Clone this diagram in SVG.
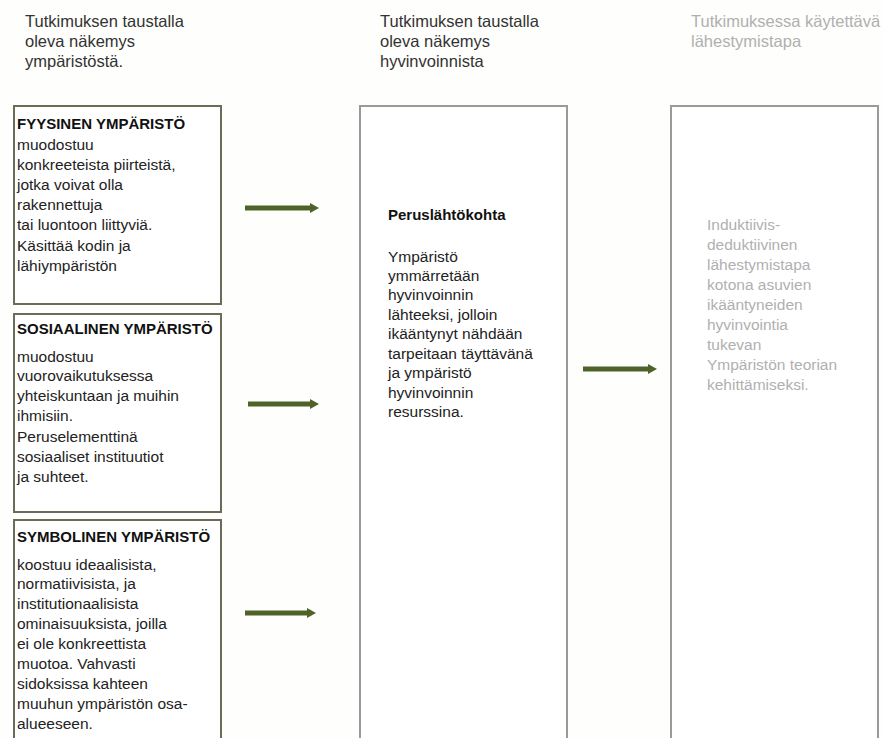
<svg xmlns="http://www.w3.org/2000/svg" width="883" height="738" viewBox="0 0 883 738">
<style>
text{font-family:"Liberation Sans",Arial,sans-serif;font-size:15.5px;fill:#222}
.h{font-weight:bold;font-size:15px;fill:#111}
.t{fill:#333;font-size:16.5px}
.g{fill:#b0b0b0}
.lb{fill:#fff;stroke:#6b6b58;stroke-width:2}
.cb{fill:#fff;stroke:#9a9a9a;stroke-width:2}
.ar{stroke:#4f6228;stroke-width:5;fill:none}
.ah{fill:#4f6228}
</style>
<rect width="883" height="738" fill="#fefefc"/>
<g id="titles">
<text class="t" x="25" y="27">Tutkimuksen taustalla</text>
<text class="t" x="25" y="47">oleva näkemys</text>
<text class="t" x="25" y="67">ympäristöstä.</text>
<text class="t" x="380" y="27">Tutkimuksen taustalla</text>
<text class="t" x="380" y="47">oleva näkemys</text>
<text class="t" x="380" y="67">hyvinvoinnista</text>
<text class="t g" x="691" y="27">Tutkimuksessa käytettävä</text>
<text class="t g" x="691" y="47">lähestymistapa</text>
</g>
<g id="fyysinen">
<rect class="lb" x="14" y="106" width="207" height="198"/>
<text class="h" x="17" y="129">FYYSINEN YMPÄRISTÖ</text>
<text x="17" y="150">muodostuu</text>
<text x="17" y="170">konkreeteista piirteistä,</text>
<text x="17" y="190">jotka voivat olla</text>
<text x="17" y="210">rakennettuja</text>
<text x="17" y="230">tai luontoon liittyviä.</text>
<text x="17" y="251">Käsittää kodin ja</text>
<text x="17" y="271">lähiympäristön</text>
</g>
<g id="sosiaalinen">
<rect class="lb" x="14" y="314" width="207" height="198"/>
<text class="h" x="17" y="334">SOSIAALINEN YMPÄRISTÖ</text>
<text x="17" y="362">muodostuu</text>
<text x="17" y="381">vuorovaikutuksessa</text>
<text x="17" y="401">yhteiskuntaan ja muihin</text>
<text x="17" y="421">ihmisiin.</text>
<text x="17" y="442">Peruselementtinä</text>
<text x="17" y="462">sosiaaliset instituutiot</text>
<text x="17" y="482">ja suhteet.</text>
</g>
<g id="symbolinen">
<rect class="lb" x="14" y="520" width="207" height="230"/>
<text class="h" x="17" y="542">SYMBOLINEN YMPÄRISTÖ</text>
<text x="17" y="570">koostuu ideaalisista,</text>
<text x="17" y="589">normatiivisista, ja</text>
<text x="17" y="609">institutionaalisista</text>
<text x="17" y="629">ominaisuuksista, joilla</text>
<text x="17" y="649">ei ole konkreettista</text>
<text x="17" y="669">muotoa. Vahvasti</text>
<text x="17" y="689">sidoksissa kahteen</text>
<text x="17" y="709">muuhun ympäristön osa-</text>
<text x="17" y="729">alueeseen.</text>
</g>
<g id="hyvinvointi">
<rect class="cb" x="360" y="106" width="207" height="645"/>
<text class="h" x="388" y="220">Peruslähtökohta</text>
<text x="388" y="262">Ympäristö</text>
<text x="388" y="281">ymmärretään</text>
<text x="388" y="300">hyvinvoinnin</text>
<text x="388" y="320">lähteeksi, jolloin</text>
<text x="388" y="339">ikääntynyt nähdään</text>
<text x="388" y="359">tarpeitaan täyttävänä</text>
<text x="388" y="378">ja ympäristö</text>
<text x="388" y="398">hyvinvoinnin</text>
<text x="388" y="417">resurssina.</text>
</g>
<g id="lahestymistapa">
<rect class="cb" x="671" y="106" width="207" height="645"/>
<text class="g" x="707" y="230">Induktiivis-</text>
<text class="g" x="707" y="250">deduktiivinen</text>
<text class="g" x="707" y="270">lähestymistapa</text>
<text class="g" x="707" y="290">kotona asuvien</text>
<text class="g" x="707" y="310">ikääntyneiden</text>
<text class="g" x="707" y="330">hyvinvointia</text>
<text class="g" x="707" y="350">tukevan</text>
<text class="g" x="707" y="370">Ympäristön teorian</text>
<text class="g" x="707" y="390">kehittämiseksi.</text>
</g>
<g id="connectors">
<line class="ar" x1="245" y1="208" x2="311" y2="208"/>
<polygon class="ah" points="310,203 319,208 310,213"/>
<line class="ar" x1="248" y1="404" x2="311" y2="404"/>
<polygon class="ah" points="310,399 319,404 310,409"/>
<line class="ar" x1="245" y1="613" x2="308" y2="613"/>
<polygon class="ah" points="307,608 316,613 307,618"/>
<line class="ar" x1="583" y1="369" x2="649" y2="369"/>
<polygon class="ah" points="648,364 657,369 648,374"/>
</g>
</svg>
